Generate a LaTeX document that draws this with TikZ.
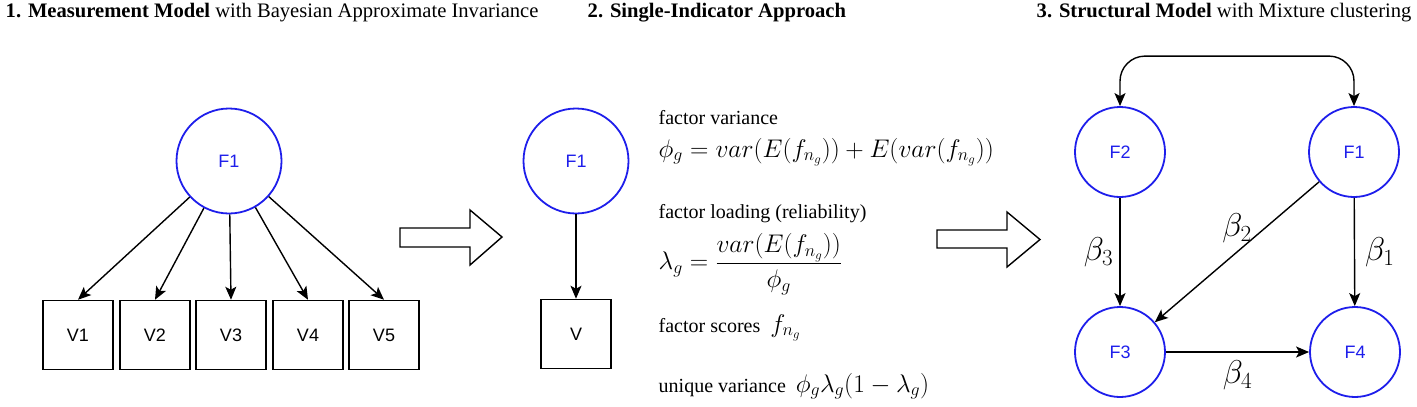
\documentclass[tikz,border=0pt]{standalone}
\usepackage{fix-cm}
\usepackage[no-math]{fontspec}
\setmainfont{Liberation Serif}
\newfontfamily\labelfont{Liberation Sans}
\usepackage{tikz}
\usetikzlibrary{arrows.meta}
\usetikzlibrary{positioning}
\definecolor{factorblue}{RGB}{30,30,235}
\newcommand{\mathsz}{\fontsize{25.5}{30}\selectfont}
\tikzstyle{factor} = [circle, draw=factorblue, line width=1.8pt, inner sep=0pt, text=factorblue, font=\labelfont\fontsize{18}{20}\selectfont]
\tikzstyle{indicator} = [rectangle, draw, line width=1.5pt, minimum width=70pt, minimum height=69pt, font=\labelfont\fontsize{18}{20}\selectfont]
\tikzstyle{formula} = [anchor=base west, inner sep=0pt, font=\fontsize{20}{24}\selectfont]
\tikzstyle{heading} = [anchor=base west, inner sep=0pt, font=\fontsize{20.6}{24}\selectfont]
\tikzstyle{coef} = [inner sep=6pt, font=\fontsize{33}{38}\selectfont]

\begin{document}
\begin{tikzpicture}[x=1pt,y=-1pt,line width=1.4pt,>={Stealth[length=13pt,width=11pt,inset=3pt]}]
    \useasboundingbox (0,0) rectangle (1417,407);

    % headings
    \node[heading] (title1) at (5,17) {\textbf{1. Measurement Model} with Bayesian Approximate Invariance};
    \node[heading] (title2) at (587,17) {\textbf{2. Single-Indicator Approach}};
    \node[heading] (title3) at (1036,17) {\textbf{3. Structural Model} with Mixture clustering};

    % measurement model
    \node[factor, minimum size=105pt] (mm-f1) at (229,161) {F1};
    \node[indicator] (v1) at (78,335) {V1};
    \node[indicator] (v2) at (155,335) {V2};
    \node[indicator] (v3) at (231,335) {V3};
    \node[indicator] (v4) at (308,335) {V4};
    \node[indicator] (v5) at (384,335) {V5};

    \draw[->] (mm-f1) -- (v1.north);
    \draw[->] (mm-f1) -- (v2.north);
    \draw[->] (mm-f1) -- (v3.north);
    \draw[->] (mm-f1) -- (v4.north);
    \draw[->] (mm-f1) -- (v5.north);

    \draw (400,228) -- ++(70,0) -- ++(0,-18) -- ++(32,27) -- ++(-32,28) -- ++(0,-18) -- ++(-70,0) -- cycle;

    % single indicator
    \node[factor, minimum size=105pt] (si-f1) at (576,161) {F1};
    \node[indicator] (v) at (576,334) {V};
    \draw[->] (si-f1) -- (v);

    \node[formula] (var-label) at (658,124) {factor variance};
    \node[formula] (var-eq) at (658,157) {\mathsz$\phi_g = var(E(f_{n_g})) + E(var(f_{n_g}))$};
    \node[formula] (load-label) at (658,218) {factor loading (reliability)};
    \node[formula, anchor=west] (load-eq) at (658,264) {\mathsz$\displaystyle\lambda_g = \frac{var(E(f_{n_g}))}{\phi_g}$};
    \node[formula] (scores) at (658,332) {factor scores\ \ {\mathsz$f_{n_g}$}};
    \node[formula] (unique) at (658,392) {unique variance\ \ {\mathsz$\phi_g\lambda_g(1-\lambda_g)$}};

    \draw (937,230) -- ++(70,0) -- ++(0,-18) -- ++(33,27.5) -- ++(-33,27.5) -- ++(0,-19) -- ++(-70,0) -- cycle;

    % structural model
    \node[factor, minimum size=90pt] (f2) at (1120,152) {F2};
    \node[factor, minimum size=90pt] (f1) at (1354,152) {F1};
    \node[factor, minimum size=90pt] (f3) at (1120,352) {F3};
    \node[factor, minimum size=90pt] (f4) at (1355,352) {F4};

    \draw[<->, rounded corners=25pt] (f2.north) -- ++(0,-50) -| (f1.north);
    \draw[->] (f2) -- node[coef, left=0pt] {$\beta_3$} (f3);
    \draw[->] (f1) -- node[coef, above=2pt] {$\beta_2$} (f3);
    \draw[->] (f1) -- node[coef, right=4pt] {$\beta_1$} (f4);
    \draw[->] (f3) -- node[coef, below=2pt] {$\beta_4$} (f4);
  \end{tikzpicture}
\end{document}
